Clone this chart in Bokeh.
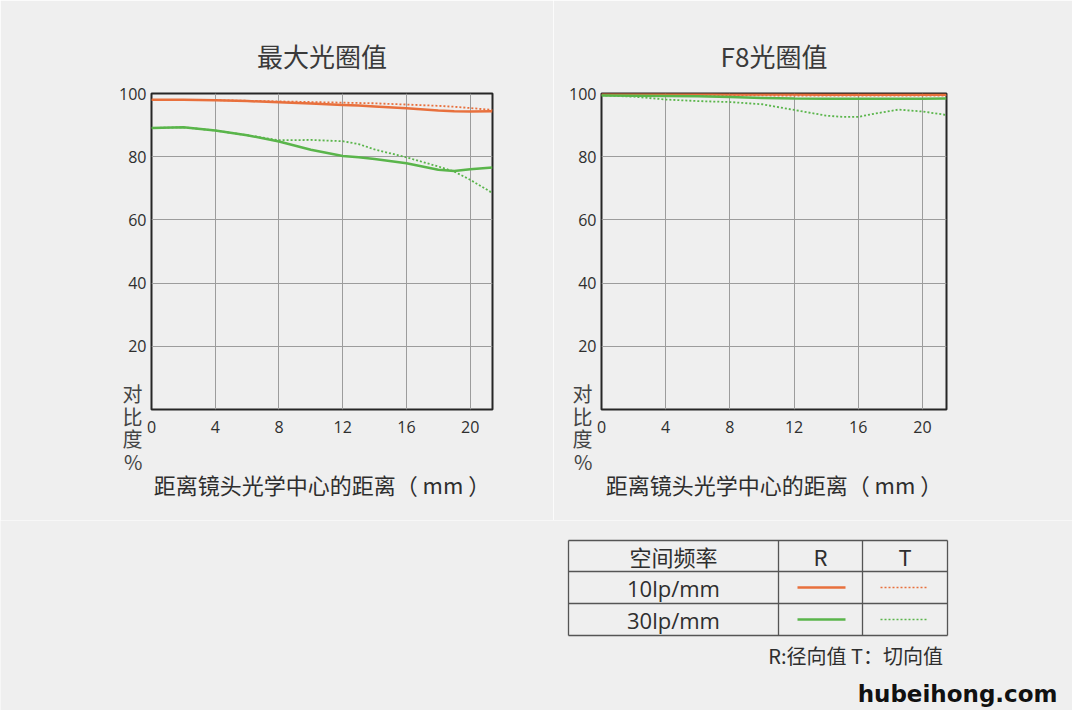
from bokeh.plotting import figure
from bokeh.layouts import column, row
from bokeh.models import Range1d, FixedTicker, LinearAxis
from bokeh.core.properties import value
from bokeh.embed import file_html
from bokeh.resources import INLINE

# ---------------- data ----------------
titles = ["最大光圈值", "F8光圈值"]
x_label = "距离镜头光学中心的距离（ mm ）"
y_label = " \n \n对\n比\n度\n%"
x_ticks = [0, 4, 8, 12, 16, 20]
y_ticks = [20, 40, 60, 80, 100]
y_grid = [0, 20, 40, 60, 80, 100]

# wide open (最大光圈值)
x_left = [0, 2, 4, 6, 8, 10, 12, 13, 14, 16, 18, 19, 20, 21.4]
left_10R = [98.0, 98.0, 97.9, 97.6, 97.2, 96.8, 96.4, 96.2, 95.9, 95.3, 94.6, 94.4, 94.3, 94.4]
left_10T = [98.0, 98.0, 97.9, 97.7, 97.5, 97.3, 97.1, 97.0, 96.9, 96.5, 96.1, 95.8, 95.4, 94.8]
left_30R = [89.1, 89.3, 88.3, 86.8, 84.8, 82.2, 80.2, 79.8, 79.3, 77.9, 75.9, 75.5, 76.0, 76.6]
left_30T = [89.1, 89.3, 88.3, 86.8, 85.2, 85.3, 84.9, 84.0, 82.3, 79.8, 76.9, 75.3, 72.7, 68.5]

# F8
x_right = [0, 2, 4, 6, 8, 10, 12, 14, 15, 16, 17, 18.5, 20, 21.5]
right_10R = [99.8, 99.8, 99.8, 99.8, 99.7, 99.7, 99.7, 99.6, 99.6, 99.6, 99.6, 99.6, 99.6, 99.6]
right_10T = [99.5, 99.5, 99.5, 99.4, 99.4, 99.4, 99.3, 99.3, 99.3, 99.3, 99.3, 99.3, 99.3, 99.3]
right_30R = [99.4, 99.3, 99.2, 99.1, 98.9, 98.6, 98.4, 98.3, 98.3, 98.3, 98.3, 98.3, 98.3, 98.4]
right_30T = [99.4, 99.0, 98.1, 97.6, 97.3, 96.6, 94.8, 93.0, 92.6, 92.6, 93.6, 94.9, 94.3, 93.2]

freqs = ["10lp/mm", "30lp/mm"]
table_header = ["空间频率", "R", "T"]
note = "R:径向值  T：切向值"
watermark = "hubeihong.com"

# ---------------- style ----------------
BG = "#efefef"
ORANGE = "#e8703d"
GREEN = "#5ab54b"
TXT = "#2e2e2e"
CJK = "Noto Sans CJK SC"
LATIN = "Open Sans"
YLABEL_AT = 1.5  # anchor (y value) of the stacked 对比度% label


def make_chart(title, xs, s10r, s10t, s30r, s30t, x_end, width, mb_left, mb_right, mb_top):
    p = figure(width=width, height=520, output_backend="svg", toolbar_location=None,
               x_range=Range1d(0, x_end), y_range=Range1d(0, 100),
               min_border_left=mb_left, min_border_right=mb_right,
               min_border_top=mb_top, min_border_bottom=111)
    p.background_fill_color = BG
    p.border_fill_color = BG
    p.outline_line_color = "#262626"
    p.outline_line_width = 2

    p.title.text = title
    p.title.align = "center"
    p.title.text_font = CJK
    p.title.text_font_size = "26px"
    p.title.text_font_style = "normal"
    p.title.text_color = "#3a3a3a"
    p.title.standoff = 40

    # stacked y label as an extra (outer) left axis
    lab_axis = LinearAxis(ticker=FixedTicker(ticks=[YLABEL_AT]),
                          major_label_overrides={YLABEL_AT: y_label})
    p.add_layout(lab_axis, "left")

    for ax in (p.xaxis[0], p.yaxis[0], lab_axis):
        ax.axis_line_color = None
        ax.major_tick_line_color = None
        ax.minor_tick_line_color = None
        ax.major_tick_out = 0
        ax.major_tick_in = 0
        ax.minor_tick_out = 0
        ax.major_label_text_font = LATIN
        ax.major_label_text_font_size = "16px"
        ax.major_label_text_color = TXT
    lab_axis.major_label_text_font = CJK
    lab_axis.major_label_text_font_size = "20px"
    lab_axis.major_label_text_color = "#444444"
    lab_axis.major_label_text_line_height = 0.78
    lab_axis.major_label_standoff = -26

    p.xaxis[0].ticker = FixedTicker(ticks=x_ticks)
    p.yaxis[0].ticker = FixedTicker(ticks=y_ticks)
    p.xaxis.major_label_standoff = 11
    p.yaxis[0].major_label_standoff = 5
    p.xaxis.axis_label = x_label
    p.xaxis.axis_label_text_font = CJK
    p.xaxis.axis_label_text_font_size = "22px"
    p.xaxis.axis_label_text_font_style = "normal"
    p.xaxis.axis_label_text_color = TXT
    p.xaxis.axis_label_standoff = 32

    p.xgrid.ticker = FixedTicker(ticks=x_ticks)
    p.ygrid.ticker = FixedTicker(ticks=y_grid)
    for g in (p.xgrid[0], p.ygrid[0]):
        g.grid_line_color = "#9c9c9c"
        g.grid_line_width = 1

    p.line(xs, s10r, line_color=ORANGE, line_width=2.5)
    p.line(xs, s10t, line_color=ORANGE, line_width=1.8, line_dash="2 2")
    p.line(xs, s30r, line_color=GREEN, line_width=2.5)
    p.line(xs, s30t, line_color=GREEN, line_width=1.8, line_dash="2 2")
    return p


left = make_chart(titles[0], x_left, left_10R, left_10T, left_30R, left_30T, 21.4,
                  553, 151, 61, 93)
right = make_chart(titles[1], x_right, right_10R, right_10T, right_30R, right_30T, 21.5,
                   519, 48, 126, 91)

# ---------------- table (legend) ----------------
t = figure(width=1072, height=190, output_backend="svg", toolbar_location=None,
           x_range=Range1d(0, 1072), y_range=Range1d(710, 520),
           min_border=0)
t.background_fill_color = BG
t.border_fill_color = BG
t.outline_line_color = None
t.axis.visible = False
t.grid.visible = False

tx0, tx1, tx2, tx3 = 568, 778, 862, 947
ty0, ty1, ty2, ty3 = 540, 571, 603, 635
TL = "#555555"
t.segment(x0=[tx0, tx0, tx0, tx0, tx0, tx1, tx2, tx3],
          y0=[ty0, ty1, ty2, ty3, ty0, ty0, ty0, ty0],
          x1=[tx3, tx3, tx3, tx3, tx0, tx1, tx2, tx3],
          y1=[ty0, ty1, ty2, ty3, ty3, ty3, ty3, ty3],
          line_color=TL, line_width=1.3)

row_y = [(ty1 + ty2) / 2, (ty2 + ty3) / 2]
t.text(x=[(tx0 + tx1) / 2, (tx1 + tx2) / 2, (tx2 + tx3) / 2], y=[(ty0 + ty1) / 2] * 3,
       text=table_header, text_align="center", text_baseline="middle",
       text_font=value(CJK), text_font_size="22px", text_color=TXT)
t.text(x=[(tx0 + tx1) / 2] * 2, y=row_y, text=freqs, text_align="center",
       text_baseline="middle", text_font=value(LATIN), text_font_size="22px", text_color=TXT)
for yy, col in zip(row_y, [ORANGE, GREEN]):
    t.line([797, 845], [yy, yy], line_color=col, line_width=2.5)
    t.line([880, 928], [yy, yy], line_color=col, line_width=1.6, line_dash="2 2")
t.text(x=[tx3], y=[655], text=[note], text_align="right", text_baseline="middle",
       text_font=value(CJK), text_font_size="20px", text_color=TXT)
t.text(x=[1057], y=[693], text=[watermark], text_align="right", text_baseline="middle",
       text_font=value("DejaVu Sans"), text_font_size="23px", text_font_style="bold",
       text_color="#111111")

layout = column(row(left, right), t)
open("out.html", "w").write(file_html(layout, INLINE))
